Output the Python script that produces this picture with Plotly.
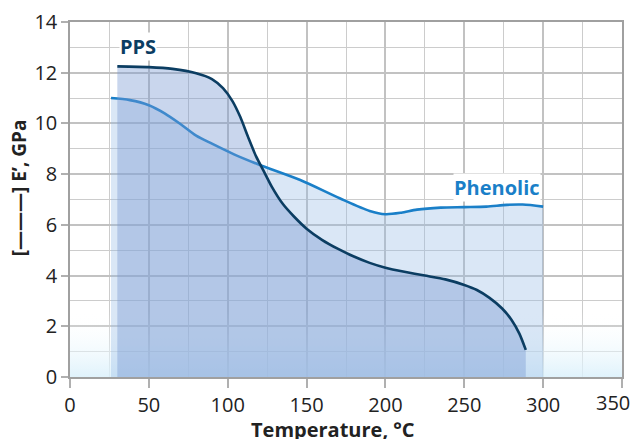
import plotly.graph_objects as go

# ---- data ----
pps_x = [30, 50, 65, 80, 90, 97, 103, 108, 113, 118, 123, 128, 135, 142, 150, 160, 170, 180, 190, 200, 212, 225, 238, 250, 258, 266, 274, 280, 285, 289]
pps_y = [12.25, 12.22, 12.15, 11.98, 11.75, 11.39, 10.88, 10.25, 9.45, 8.7, 8.1, 7.5, 6.82, 6.33, 5.85, 5.4, 5.05, 4.75, 4.5, 4.31, 4.15, 4.0, 3.85, 3.63, 3.43, 3.12, 2.7, 2.25, 1.7, 1.07]

phen_x = [26, 38, 50, 60, 70, 80, 90, 104, 120, 146, 171, 190, 200, 210, 220, 235, 250, 264, 277, 287, 300]
phen_y = [11.0, 10.92, 10.72, 10.4, 9.98, 9.52, 9.2, 8.78, 8.37, 7.77, 7.05, 6.55, 6.42, 6.48, 6.6, 6.68, 6.7, 6.72, 6.79, 6.8, 6.72]

x_ticks = [0, 50, 100, 150, 200, 250, 300, 350]
x_labels = ["0", "50", "100", "150", "200", "250", "300", "350"]
y_ticks = [0, 2, 4, 6, 8, 10, 12, 14]

band_x = [0, 350, 350, 0]
band_y = [0, 0, 2.6, 2.6]

FONT = "Open Sans"

fig = go.Figure()

# light gradient band at the bottom
fig.add_trace(go.Scatter(
    x=band_x, y=band_y, mode="none", fill="toself",
    fillgradient=dict(type="vertical",
                      colorscale=[[0, "rgba(218,240,251,0.85)"], [1, "rgba(255,255,255,0)"]]),
    hoverinfo="skip", showlegend=False))

# Phenolic fill + line
fig.add_trace(go.Scatter(
    x=phen_x, y=phen_y, mode="lines", fill="tozeroy",
    fillcolor="rgba(150,185,228,0.35)",
    line=dict(color="#1a7fc8", width=2.6, shape="spline", smoothing=0.8),
    showlegend=False))

# PPS fill + line
fig.add_trace(go.Scatter(
    x=pps_x, y=pps_y, mode="lines", fill="tozeroy",
    fillcolor="rgba(120,152,210,0.40)",
    line=dict(color="#0b3d62", width=2.6, shape="spline", smoothing=0.6),
    showlegend=False))

fig.add_annotation(x=43, y=13.05, text="<b>PPS</b>", showarrow=False,
                   font=dict(family=FONT, size=20, color="#0b3d62"), bgcolor="white",
                   borderpad=0)
fig.add_annotation(x=271, y=7.48, text="<b>Phenolic</b>", showarrow=False,
                   font=dict(family=FONT, size=20, color="#1a7fc8"), bgcolor="white",
                   borderpad=0)

# last x tick label is pulled inside the page, as in the reference
fig.add_annotation(x=x_ticks[-1], xref="x", yref="paper", y=-0.073,
                   xanchor="right", yanchor="middle", xshift=10,
                   text=x_labels[-1], showarrow=False,
                   font=dict(family=FONT, size=20, color="#222222"))

# axis titles as annotations
fig.add_annotation(xref="paper", yref="paper", x=0.476, y=-0.149,
                   xanchor="center", yanchor="middle",
                   text="<b>Temperature, °C</b>", showarrow=False,
                   font=dict(family=FONT, size=20, color="#222222"))
fig.add_annotation(xref="paper", yref="paper", x=-0.092, y=0.532, textangle=-90,
                   xanchor="center", yanchor="middle",
                   text="<b>[———] E’, GPa</b>", showarrow=False,
                   font=dict(family=FONT, size=19, color="#222222"))

# page body adds an 8px offset; margins compensate so the plot lands where the reference has it
fig.update_layout(
    width=641, height=439,
    margin=dict(l=62, r=27, t=14, b=70),
    paper_bgcolor="white", plot_bgcolor="white",
    font=dict(family=FONT, size=20, color="#222222"),
)

fig.update_xaxes(
    range=[0, 350], tickvals=x_ticks, ticktext=x_labels[:-1] + [""], automargin=False,
    showgrid=True, gridcolor="#c2c2c2", gridwidth=1.5,
    minor=dict(dtick=25, showgrid=True, gridcolor="#cccccc", gridwidth=1),
    ticks="outside", ticklen=9, tickwidth=2, tickcolor="#b0b0b0",
    showline=True, linecolor="#a0a0a0", linewidth=1.5, mirror=True,
    zeroline=False, tickfont=dict(size=20, color="#222222"),
)
fig.update_yaxes(
    range=[0, 14], tickvals=y_ticks, ticktext=[str(v) for v in y_ticks], automargin=False,
    ticklabeloverflow="allow",
    showgrid=True, gridcolor="#c2c2c2", gridwidth=1.5,
    minor=dict(dtick=1, showgrid=True, gridcolor="#cccccc", gridwidth=1),
    ticks="outside", ticklen=7, tickwidth=2, tickcolor="#b0b0b0",
    showline=True, linecolor="#a0a0a0", linewidth=1.5, mirror=True,
    zeroline=False, tickfont=dict(size=20, color="#222222"),
)

fig.write_html("out.html")
